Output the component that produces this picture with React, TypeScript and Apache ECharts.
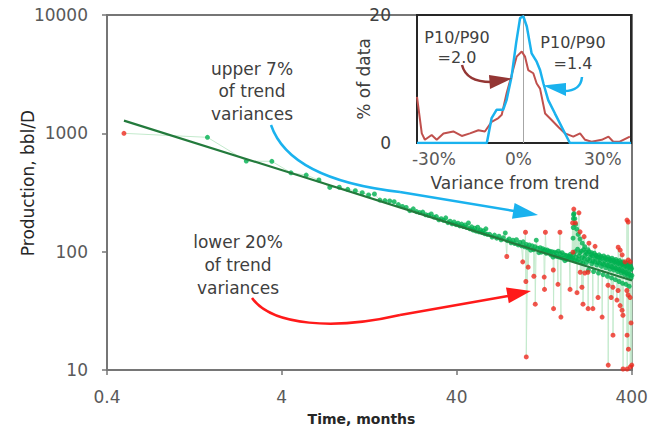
import React, { useEffect, useRef } from "react";
import * as echarts from "echarts";

// ---- main chart data (months, bbl/D) ----
const monthTicks = [0.4, 4, 40, 400];
const productionMin = 10;
const productionMax = 10000;

const trendPoints: number[][] = [[0.5, 1280], [5, 440], [50, 150], [400, 57]];

const earlyGreen: number[][] = [
  [1.5, 925], [2.5, 583], [3.5, 580], [4.5, 464], [5.5, 444], [6.5, 403], [7.5, 349], [8.5, 350],
  [9.5, 336], [10.5, 327], [11.5, 315], [12.5, 301], [13.5, 307], [14.5, 273], [15.5, 270], [16.5, 268],
  [17.5, 264], [18.5, 250], [19.5, 241], [20.5, 236], [21.5, 222], [22.5, 230], [23.5, 218], [24.5, 214],
  [25.5, 216], [26.5, 205], [27.5, 203], [28.5, 208], [29.5, 196], [30.5, 198], [31.5, 186], [32.5, 190],
  [33.5, 184], [34.5, 193], [35.5, 176], [36.5, 181], [37.5, 172], [38.5, 178], [39.5, 169], [40.5, 174],
  [41.5, 165], [42.5, 171], [43.5, 163], [44.5, 168], [45.5, 160], [46.5, 175], [47.5, 156], [48.5, 162],
  [49.5, 152], [50.5, 158], [51.5, 149], [52.5, 161], [53.5, 147], [54.5, 153], [55.5, 145], [56.5, 150],
  [57.5, 142], [58.5, 156], [59.5, 140],
];

const midGreen: number[][] = [
  [61.5, 140], [63.5, 133], [65.5, 138], [67.5, 130], [69.5, 135], [71.5, 126], [73.5, 131], [75.5, 144],
  [77.5, 124], [79.5, 128], [81.5, 119], [83.5, 125], [85.5, 117], [87.5, 126], [89.5, 114], [91.5, 120],
  [93.5, 112], [95.5, 121], [97.5, 110], [99.5, 115], [101.5, 108], [103.5, 114], [105.5, 103], [107.5, 112],
  [109.5, 104], [111.5, 110], [113.5, 125], [115.5, 107], [117.5, 98], [119.5, 108], [121.5, 99], [123.5, 106],
  [125.5, 102], [127.5, 104], [129.5, 97], [131.5, 103], [133.5, 100], [135.5, 101], [137.5, 94], [139.5, 100],
  [141.5, 90], [143.5, 99], [145.5, 92], [147.5, 98], [149.5, 91], [151.5, 101], [153.5, 90], [155.5, 96],
  [157.5, 89], [159.5, 98], [161.5, 88], [163.5, 94], [165.5, 84], [167.5, 93], [169.5, 86], [171.5, 92],
  [173.5, 88], [175.5, 91], [177.5, 95], [179.5, 90], [181.5, 86],
];

const lateGreen: number[][] = [
  [183.5, 88], [185.5, 95], [187.5, 84], [189.5, 100], [191.5, 90], [193.5, 83], [195.5, 105], [197.5, 86],
  [199.5, 92], [201.5, 98], [203.5, 82], [205.5, 101], [207.5, 89], [209.5, 80], [211.5, 104], [213.5, 87],
  [215.5, 93], [217.5, 99], [219.5, 81], [221.5, 96], [223.5, 86], [225.5, 70], [227.5, 100], [229.5, 84],
  [231.5, 90], [233.5, 95], [235.5, 79], [237.5, 92], [239.5, 83], [241.5, 68], [243.5, 97], [245.5, 82],
  [247.5, 88], [249.5, 93], [251.5, 77], [253.5, 90], [255.5, 81], [257.5, 66], [259.5, 94], [261.5, 80],
  [263.5, 86], [265.5, 91], [267.5, 75], [269.5, 88], [271.5, 79], [273.5, 64], [275.5, 92], [277.5, 78],
  [279.5, 84], [281.5, 89], [283.5, 73], [285.5, 86], [287.5, 77], [289.5, 62], [291.5, 90], [293.5, 76],
  [295.5, 82], [297.5, 87], [299.5, 71], [301.5, 84], [303.5, 75], [305.5, 60], [307.5, 88], [309.5, 74],
  [311.5, 80], [313.5, 85], [315.5, 70], [317.5, 82], [319.5, 73], [321.5, 58], [323.5, 86], [325.5, 72],
  [327.5, 78], [329.5, 83], [331.5, 68], [333.5, 80], [335.5, 71], [337.5, 56], [339.5, 84], [341.5, 70],
  [343.5, 76], [345.5, 81], [347.5, 66], [349.5, 78], [351.5, 69], [353.5, 54], [355.5, 82], [357.5, 68],
  [359.5, 74], [361.5, 79], [363.5, 64], [365.5, 76], [367.5, 67], [369.5, 53], [371.5, 80], [373.5, 66],
  [375.5, 72], [377.5, 77], [379.5, 62], [381.5, 74], [383.5, 65], [385.5, 51], [387.5, 78], [389.5, 64],
  [391.5, 70], [393.5, 75], [395.5, 60], [397.5, 72], [399.5, 63],
];

const spikeGreen: number[][] = [
  [184.2, 130], [184.6, 160], [185.0, 190], [185.4, 205], [186.5, 210], [188.5, 190], [190.5, 170],
  [193.5, 155], [197, 140], [202, 128], [208, 118], [215, 110], [224, 104], [235, 98], [248, 93], [260, 89],
];

const redPoints: number[][] = [
  [0.5, 1000], [77, 91], [95, 82], [98.5, 146], [99, 56], [99.5, 12.9], [102, 74], [110, 62], [112, 36],
  [126, 61], [126.5, 48], [128, 146], [142, 70], [142.5, 33], [151, 53], [155, 146], [157, 28], [177, 48],
  [183, 175], [184, 99], [186, 229], [190, 175], [194, 45], [199, 213], [202, 147], [202.5, 67], [207, 50],
  [210, 36], [213, 134], [215, 66], [224, 67], [224.5, 33], [227, 118], [239, 33], [246, 111], [256, 41],
  [270, 28], [292, 52], [292.5, 11], [304, 41], [311, 50], [311.5, 19.7], [328, 39], [333, 47], [333.5, 109],
  [342, 35], [342.5, 103], [351, 32], [351.5, 94], [355, 29], [355.5, 10.2], [365, 82], [374, 47],
  [374.5, 185], [375, 19.7], [375.5, 10.2], [380, 43], [380.5, 178], [381, 85], [381.5, 15], [390, 41],
  [390.5, 82], [391, 10.6], [395, 25], [399, 11],
];

// ---- inset histogram (variance %, % of data) ----
const insetTickValues = [-30, 0, 30];
const insetPeakLine = 1.75;
const brownCurve: number[][] = [
  [-36, 7.2], [-34.3, 1.5], [-33.2, 0.5], [-30.8, 1.25], [-29, 0.5], [-26.6, 1.5], [-23.1, 1.8], [-20.1, 1.1],
  [-17.2, 1.5], [-14.2, 2], [-11.9, 1.8], [-9.5, 3.3], [-7.1, 3.9], [-5.9, 4.4], [-4.15, 7.8], [-2.4, 10.6],
  [-0.6, 13.5], [1.2, 14.3], [2.35, 13.5], [3.5, 11.4], [5.3, 10.9], [6.5, 9.3], [7.7, 8.5], [9.5, 4.6],
  [11.8, 3.6], [14.2, 2.5], [16.6, 1.5], [19.5, 1], [21.9, 1.5], [23.7, 0.5], [26, 0.2], [29.6, 0.5],
  [32, 1], [33.7, 0.2], [36, 0.2], [39.6, 1],
];
const blueCurve: number[][] = [
  [-36, 0], [-11.2, 0], [-9.5, 3.9], [-7.7, 5.2], [-5.4, 5.2], [-4.2, 6.7], [-2.4, 10.4], [-0.8, 15.6],
  [0.6, 19.5], [1.75, 19.8], [3.0, 18.2], [4.7, 14], [6.5, 12.7], [7.7, 11.4], [8.9, 9.3], [10.6, 6.7],
  [13, 4.6], [16, 2], [18.3, 0], [40, 0],
];

const FONT = "DejaVu Sans";

export default function App() {
  const ref = useRef<HTMLDivElement>(null);

  useEffect(() => {
    if (!ref.current) return;
    const chart = echarts.init(ref.current, undefined, { renderer: "svg" });

    const greenPoints = [...earlyGreen, ...midGreen, ...lateGreen, ...spikeGreen];
    const allPoints = [...greenPoints, ...redPoints].sort((a, b) => a[0] - b[0]);

    const axisGray = "#767676";

    const option: any = {
      animation: false,
      textStyle: { fontFamily: FONT },
      grid: [
        { left: 107, top: 15, width: 525, height: 355, show: true, borderColor: axisGray, borderWidth: 2, outerBoundsMode: "none" },
        { left: 417, top: 15, width: 214, height: 128, show: true, borderColor: "#262626", borderWidth: 2, backgroundColor: "#fff", outerBoundsMode: "none" },
      ],
      xAxis: [
        {
          type: "log", gridIndex: 0, logBase: 10, min: monthTicks[0], max: monthTicks[monthTicks.length - 1], interval: 1,
          axisLine: { show: true, lineStyle: { color: axisGray, width: 2 } },
          axisTick: { show: true, length: 5, lineStyle: { color: axisGray, width: 1.5 } },
          axisLabel: { fontSize: 17, color: "#595959", margin: 18, formatter: (v: number) => String(Number(v.toPrecision(1))) },
          splitLine: { show: false },
          name: "Time, months", nameLocation: "middle", nameGap: 42, nameMoveOverlap: false,
          nameTextStyle: { fontSize: 14, fontWeight: "bold", color: "#262626", padding: [0, 16, 0, 0] },
        },
        {
          type: "value", gridIndex: 1, min: -36, max: 40,
          axisLine: { show: false },
          axisTick: { show: false, customValues: insetTickValues },
          axisLabel: { customValues: insetTickValues, formatter: (v: number) => v + "%", fontSize: 17, color: "#595959", margin: 7 },
          splitLine: { show: false },
          name: "Variance from trend", nameLocation: "middle", nameGap: 31, nameMoveOverlap: false,
          nameTextStyle: { fontSize: 17, color: "#404040", padding: [0, 18, 0, 0] },
        },
      ],
      yAxis: [
        {
          type: "log", gridIndex: 0, logBase: 10, min: productionMin, max: productionMax,
          axisLine: { show: true, lineStyle: { color: axisGray, width: 2 } },
          axisTick: { show: true, length: 5, lineStyle: { color: axisGray, width: 1.5 } },
          axisLabel: { fontSize: 17, color: "#595959", margin: 19, formatter: (v: number) => String(Math.round(v)) },
          splitLine: { show: false },
          name: "Production, bbl/D", nameLocation: "middle", nameGap: 71, nameRotate: 90, nameMoveOverlap: false,
          nameTextStyle: { fontSize: 17, color: "#262626", padding: [0, 0, 0, 19] },
        },
        {
          type: "value", gridIndex: 1, min: 0, max: 20, interval: 20,
          axisLine: { show: false }, axisTick: { show: false },
          axisLabel: { fontSize: 17, color: "#404040", margin: 26 },
          splitLine: { show: false },
          name: "% of data", nameLocation: "middle", nameGap: 45, nameRotate: 90, nameMoveOverlap: false,
          nameTextStyle: { fontSize: 17, color: "#404040" },
        },
      ],
      series: [
        {
          type: "line", xAxisIndex: 0, yAxisIndex: 0, data: allPoints, symbol: "none",
          lineStyle: { color: "#c4eacd", width: 1 }, z: 1, silent: true,
        },
        {
          type: "scatter", xAxisIndex: 0, yAxisIndex: 0, data: greenPoints, symbolSize: 5,
          itemStyle: { color: "#00b050" }, z: 2,
        },
        {
          type: "line", xAxisIndex: 0, yAxisIndex: 0, data: trendPoints, symbol: "none",
          lineStyle: { color: "#237a3c", width: 2.2 }, z: 3,
        },
        {
          type: "scatter", xAxisIndex: 0, yAxisIndex: 0, data: redPoints, symbolSize: 5,
          itemStyle: { color: "#ee2a1f" }, z: 4,
        },
        {
          type: "line", xAxisIndex: 1, yAxisIndex: 1, data: brownCurve, symbol: "none",
          lineStyle: { color: "#c0504d", width: 2 }, z: 5,
        },
        {
          type: "line", xAxisIndex: 1, yAxisIndex: 1, data: blueCurve, symbol: "none",
          lineStyle: { color: "#1ab2ee", width: 2.5 }, z: 6,
          markLine: {
            silent: true, symbol: ["none", "none"], label: { show: false },
            lineStyle: { color: "#a6a6a6", width: 1, type: "solid" },
            data: [{ xAxis: insetPeakLine }],
          },
        },
      ],
      graphic: [
        {
          type: "text", x: 252, y: 91, z: 10,
          style: { text: "upper 7%\nof trend\nvariances", fontSize: 17, fontFamily: FONT, fill: "#404040", align: "center", verticalAlign: "middle", lineHeight: 22.5 },
        },
        {
          type: "text", x: 238, y: 265, z: 10,
          style: { text: "lower 20%\nof trend\nvariances", fontSize: 17, fontFamily: FONT, fill: "#404040", align: "center", verticalAlign: "middle", lineHeight: 23 },
        },
        {
          type: "text", x: 457, y: 47, z: 10,
          style: { text: "P10/P90\n=2.0", fontSize: 16, fontFamily: FONT, fill: "#404040", align: "center", verticalAlign: "middle", lineHeight: 20 },
        },
        {
          type: "text", x: 573, y: 52.5, z: 10,
          style: { text: "P10/P90\n=1.4", fontSize: 16, fontFamily: FONT, fill: "#404040", align: "center", verticalAlign: "middle", lineHeight: 21 },
        },
        // blue arrow (main)
        { type: "bezierCurve", z: 10, shape: { x1: 271, y1: 125, cpx1: 284, cpy1: 163, cpx2: 330, cpy2: 184, x2: 400, y2: 192 }, style: { stroke: "#1ab2ee", lineWidth: 2.5, fill: null } },
        { type: "line", z: 10, shape: { x1: 400, y1: 192, x2: 514, y2: 211 }, style: { stroke: "#1ab2ee", lineWidth: 2.5 } },
        { type: "polygon", z: 10, shape: { points: [[538, 215], [512, 218.8], [514.6, 203]] }, style: { fill: "#1ab2ee" } },
        // red arrow (main)
        { type: "bezierCurve", z: 10, shape: { x1: 252, y1: 298, cpx1: 272, cpy1: 326, cpx2: 335, cpy2: 330, x2: 400, y2: 315 }, style: { stroke: "#ff1a1a", lineWidth: 2.5, fill: null } },
        { type: "line", z: 10, shape: { x1: 400, y1: 315, x2: 508, y2: 296 }, style: { stroke: "#ff1a1a", lineWidth: 2.5 } },
        { type: "polygon", z: 10, shape: { points: [[531, 291], [508.8, 303.2], [506, 287.4]] }, style: { fill: "#ff1a1a" } },
        // inset brown arrow
        { type: "bezierCurve", z: 10, shape: { x1: 462, y1: 65, cpx1: 465, cpy1: 77, cpx2: 476, cpy2: 82, x2: 491, y2: 82 }, style: { stroke: "#943634", lineWidth: 2.5, fill: null } },
        { type: "polygon", z: 10, shape: { points: [[489, 75], [512, 78.5], [490, 89]] }, style: { fill: "#943634" } },
        // inset blue arrow
        { type: "bezierCurve", z: 10, shape: { x1: 582, y1: 77, cpx1: 581, cpy1: 88, cpx2: 573, cpy2: 91, x2: 564, y2: 91 }, style: { stroke: "#1ab2ee", lineWidth: 2.5, fill: null } },
        { type: "polygon", z: 10, shape: { points: [[566, 83], [543, 85.5], [566, 96]] }, style: { fill: "#1ab2ee" } },
      ],
    };

    chart.setOption(option);
    return () => chart.dispose();
  }, []);

  return <div ref={ref} style={{ position: "absolute", left: 0, top: 0, width: 664, height: 430, background: "#fff" }} />;
}
